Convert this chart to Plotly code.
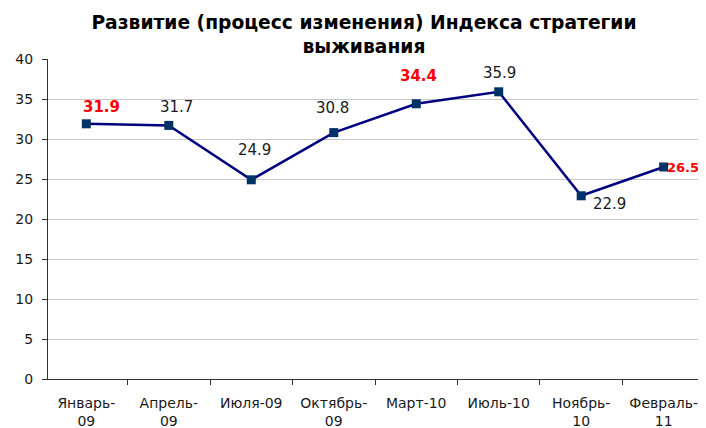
import plotly.graph_objects as go

categories = ["Январь-<br>09", "Апрель-<br>09", "Июля-09", "Октябрь-<br>09",
              "Март-10", "Июль-10", "Ноябрь-<br>10", "Февраль-<br>11"]
values = [31.9, 31.7, 24.9, 30.8, 34.4, 35.9, 22.9, 26.5]
highlight = [True, False, False, False, True, False, False, True]

# label offsets from the marker, in pixels (as placed in the original)
label_dx = [15, 8, 3, -1, 2, 1, 11, 2]
label_dy = [17, 18, 30, 25, 28, 19, -8, 0]
label_anchor = ["center", "center", "center", "center", "center", "center", "left", "left"]
label_size = [15, 15, 15, 15, 15, 15, 15, 13]

FONT = "DejaVu Sans"

fig = go.Figure()
fig.add_trace(go.Scatter(
    x=categories,
    y=values,
    mode="lines+markers",
    line=dict(color="#000080", width=2.5),
    marker=dict(symbol="square", size=9, color="#003366"),
    showlegend=False,
))

for cat, v, h, dx, dy, anc, sz in zip(categories, values, highlight, label_dx,
                                      label_dy, label_anchor, label_size):
    fig.add_annotation(
        x=cat, y=v,
        text=f"<b>{v}</b>" if h else f"{v}",
        showarrow=False,
        xanchor=anc, yanchor="middle",
        xshift=dx, yshift=dy,
        borderpad=0,
        font=dict(family=FONT, size=sz, color="#ff0000" if h else "#1a1a1a"),
    )

# page body adds 8px around the figure, so the figure is 8px smaller
fig.update_layout(
    width=698,
    height=420,
    margin=dict(l=40, r=4, t=51, b=49),
    paper_bgcolor="white",
    plot_bgcolor="white",
    font=dict(family=FONT, size=14, color="#1a1a1a"),
    title=dict(
        text="<b>Развитие (процесс изменения) Индекса стратегии<br>выживания</b>",
        x=0.51, xanchor="center", y=0.95, yanchor="top",
        font=dict(family=FONT, size=18.7, color="#000000"),
    ),
    xaxis=dict(
        automargin=False,
        tickson="boundaries",
        tickangle=0,
        ticks="outside",
        ticklen=5,
        tickcolor="#333333",
        ticklabelstandoff=11,
        showline=True,
        linecolor="#333333",
        showgrid=False,
        tickfont=dict(size=14),
    ),
    yaxis=dict(
        automargin=False,
        range=[0, 40],
        dtick=5,
        ticks="outside",
        ticklen=5,
        tickcolor="#333333",
        ticklabelstandoff=6,
        showline=True,
        linecolor="#333333",
        gridcolor="#c8c8c8",
        zeroline=False,
        tickfont=dict(size=14),
    ),
)

fig.write_html("out.html")
